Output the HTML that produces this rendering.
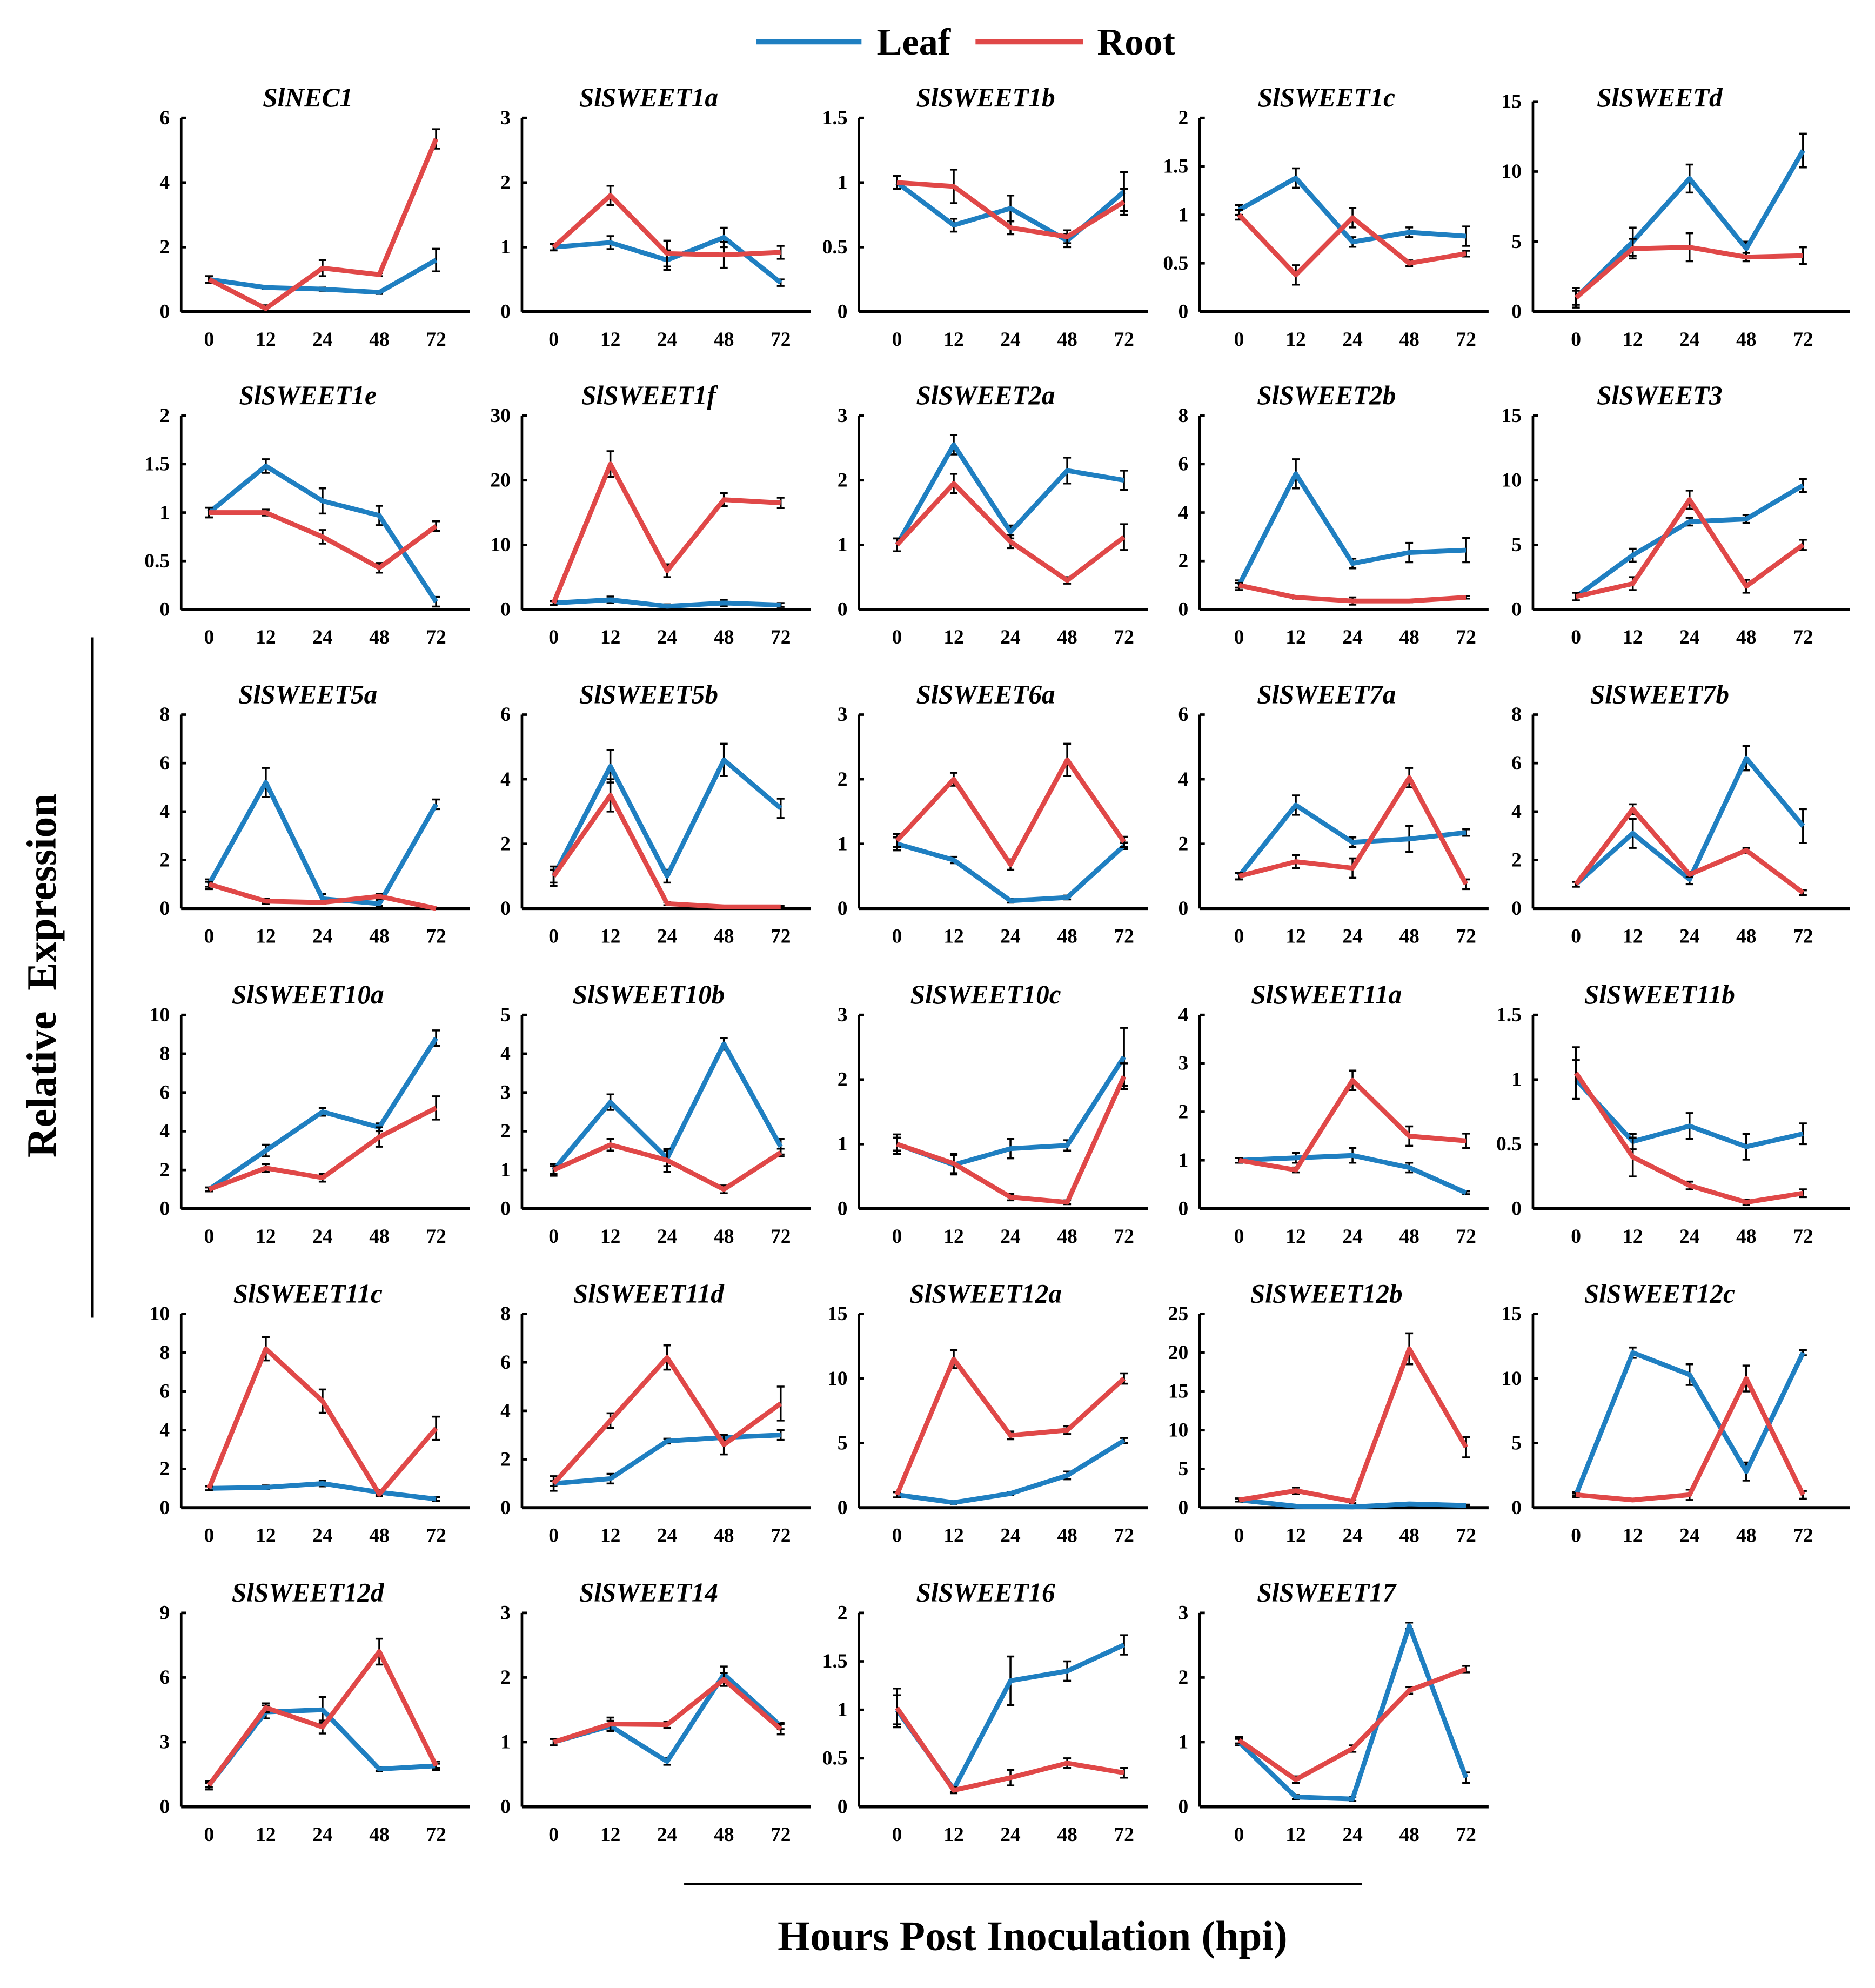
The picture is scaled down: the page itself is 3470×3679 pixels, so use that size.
<!DOCTYPE html>
<html><head><meta charset="utf-8"><style>
html,body{margin:0;padding:0;background:#fff;}
svg{display:block;font-family:"Liberation Serif",serif;font-weight:bold;}
</style></head><body>
<svg id="chart" width="3470" height="3679" viewBox="0 0 1480 1569" xmlns="http://www.w3.org/2000/svg">
<g>
<line x1="597" y1="33" x2="680" y2="33" stroke="#1f7fc1" stroke-width="4"/>
<text x="692" y="43" font-size="30">Leaf</text>
<line x1="770" y1="33" x2="855" y2="33" stroke="#e04848" stroke-width="4"/>
<text x="866" y="43" font-size="30">Root</text>
</g>
<line x1="73" y1="503" x2="73" y2="1040" stroke="#000" stroke-width="2"/>
<text transform="translate(44,770) rotate(-90)" text-anchor="middle" font-size="33">Relative&#160; Expression</text>
<line x1="540" y1="1487" x2="1075" y2="1487" stroke="#000" stroke-width="2"/>
<text x="815" y="1539" text-anchor="middle" font-size="33">Hours Post Inoculation (hpi)</text>
<g id="panels"></g>
</svg>
<script>
const hours = ["0","12","24","48","72"];
const titles = ["SlNEC1","SlSWEET1a","SlSWEET1b","SlSWEET1c","SlSWEETd","SlSWEET1e","SlSWEET1f","SlSWEET2a","SlSWEET2b","SlSWEET3","SlSWEET5a","SlSWEET5b","SlSWEET6a","SlSWEET7a","SlSWEET7b","SlSWEET10a","SlSWEET10b","SlSWEET10c","SlSWEET11a","SlSWEET11b","SlSWEET11c","SlSWEET11d","SlSWEET12a","SlSWEET12b","SlSWEET12c","SlSWEET12d","SlSWEET14","SlSWEET16","SlSWEET17"];
const yMax = [6,3,1.5,2,15, 2,30,3,8,15, 8,6,3,6,8, 10,5,3,4,1.5, 10,8,15,25,15, 9,3,2,3];
const yStep = [2,1,0.5,0.5,5, 0.5,10,1,2,5, 2,2,1,2,2, 2,1,1,1,0.5, 2,2,5,5,5, 3,1,0.5,1];
const leaf = [
[1,0.75,0.7,0.6,1.6],[1,1.07,0.8,1.15,0.45],[1,0.67,0.8,0.55,0.93],[1.05,1.38,0.72,0.82,0.78],[1,5,9.5,4.5,11.5],
[1,1.48,1.12,0.97,0.08],[1,1.5,0.5,1,0.7],[1,2.55,1.2,2.15,2],[1,5.6,1.9,2.35,2.45],[1,4.2,6.8,7,9.6],
[1,5.2,0.4,0.2,4.3],[1,4.4,1,4.6,3.1],[1,0.75,0.12,0.17,0.97],[1,3.2,2.05,2.15,2.35],[1,3.1,1.2,6.2,3.4],
[1,3,5,4.2,8.8],[1,2.75,1.3,4.25,1.6],[1,0.68,0.93,0.98,2.35],[1,1.05,1.1,0.85,0.33],[1,0.52,0.64,0.48,0.58],
[1,1.05,1.25,0.8,0.45],[1,1.2,2.75,2.9,3],[1,0.4,1.1,2.5,5.2],[1,0.2,0.1,0.5,0.3],[1,12,10.3,2.8,12],
[1,4.4,4.5,1.75,1.9],[1,1.25,0.7,2.05,1.25],[1,0.18,1.3,1.4,1.67],[1,0.15,0.12,2.8,0.45]];
const root = [
[1,0.1,1.35,1.15,5.35],[1,1.8,0.9,0.88,0.92],[1,0.97,0.65,0.58,0.85],[1,0.38,0.97,0.5,0.6],[1,4.5,4.6,3.9,4],
[1,1,0.75,0.43,0.86],[1,22.5,6,17,16.5],[1,1.95,1.05,0.45,1.12],[1,0.5,0.35,0.35,0.5],[1,2,8.5,1.8,5],
[1,0.3,0.25,0.5,0],[1,3.5,0.15,0.05,0.05],[1.05,2,0.68,2.3,1.03],[1,1.45,1.25,4.05,0.75],[1,4.1,1.4,2.4,0.65],
[1,2.1,1.6,3.7,5.2],[1,1.65,1.25,0.5,1.45],[1,0.7,0.18,0.1,2.05],[1,0.8,2.65,1.5,1.4],[1.05,0.4,0.18,0.05,0.12],
[1,8.2,5.5,0.7,4.1],[1,3.6,6.2,2.6,4.3],[1,11.5,5.6,6,10],[1,2.2,0.8,20.5,7.8],[1,0.6,1,10,1],
[1,4.6,3.7,7.2,1.9],[1,1.28,1.27,1.97,1.2],[1.02,0.17,0.3,0.45,0.35],[1.03,0.42,0.9,1.8,2.13]];
const leafErr = [
[0.1,0.05,0.05,0.05,0.35],[0.05,0.1,0.15,0.15,0.05],[0.05,0.05,0.1,0.05,0.15],[0.05,0.1,0.05,0.05,0.1],[0.7,1,1,0.5,1.2],
[0.05,0.07,0.13,0.1,0.05],[0.3,0.5,0.3,0.5,0.3],[0.1,0.15,0.1,0.2,0.15],[0.2,0.6,0.2,0.4,0.5],[0.3,0.5,0.3,0.3,0.5],
[0.2,0.6,0.2,0.1,0.2],[0.2,0.5,0.2,0.5,0.3],[0.1,0.05,0.03,0.03,0.05],[0.1,0.3,0.15,0.4,0.1],[0.1,0.6,0.2,0.5,0.7],
[0.1,0.3,0.2,0.2,0.4],[0.15,0.2,0.2,0.15,0.2],[0.1,0.15,0.15,0.08,0.45],[0.05,0.1,0.15,0.1,0.03],[0.15,0.06,0.1,0.1,0.08],
[0.1,0.1,0.15,0.1,0.1],[0.1,0.2,0.1,0.1,0.2],[0.2,0.1,0.1,0.3,0.2],[0.2,0.1,0.1,0.1,0.1],[0.2,0.4,0.8,0.7,0.2],
[0.1,0.3,0.6,0.1,0.1],[0.05,0.08,0.05,0.12,0.05],[0.15,0.03,0.25,0.1,0.1],[0.05,0.03,0.03,0.05,0.08]];
const rootErr = [
[0.1,0.1,0.25,0.05,0.3],[0.05,0.15,0.2,0.2,0.1],[0.05,0.13,0.05,0.05,0.1],[0.05,0.1,0.1,0.03,0.03],[0.5,0.7,1,0.3,0.6],
[0.05,0.03,0.07,0.05,0.05],[0.3,2,1,1,0.8],[0.1,0.15,0.1,0.05,0.2],[0.1,0.05,0.15,0.05,0.05],[0.3,0.5,0.7,0.5,0.4],
[0.1,0.1,0.05,0.1,0.03],[0.3,0.5,0.05,0.03,0.03],[0.1,0.1,0.08,0.25,0.08],[0.1,0.2,0.3,0.3,0.15],[0.1,0.2,0.1,0.1,0.1],
[0.1,0.2,0.2,0.5,0.6],[0.1,0.15,0.3,0.1,0.1],[0.15,0.15,0.05,0.03,0.2],[0.05,0.05,0.2,0.2,0.15],[0.2,0.15,0.03,0.02,0.03],
[0.1,0.6,0.6,0.1,0.6],[0.3,0.3,0.5,0.4,0.7],[0.2,0.7,0.3,0.3,0.4],[0.2,0.4,0.2,2,1.3],[0.1,0.1,0.4,1,0.3],
[0.2,0.2,0.3,0.6,0.2],[0.05,0.1,0.05,0.1,0.08],[0.2,0.03,0.08,0.05,0.05],[0.05,0.05,0.05,0.05,0.05]];

const NS = "http://www.w3.org/2000/svg";
const colAxis = [143,412,678,947,1210];
const colOff = [22,25,30,31,34];
const colWidth = [228,228,228,228,250];
const rowZero = [246,481,717,954,1190,1426];
const step = 44.8;
const host = document.getElementById('panels');
function mk(tag, attrs, parent){const e=document.createElementNS(NS,tag);for(const k in attrs)e.setAttribute(k,attrs[k]);parent.appendChild(e);return e;}
function fmt(v){return (Math.round(v*10)/10).toString();}

titles.forEach((t,i)=>{
  const c=i%5, r=Math.floor(i/5);
  const plotH = (i===4) ? 166 : 153;
  const ax=colAxis[c], y0=rowZero[r], yt=y0-plotH;
  const g=mk('g',{},host);
  
  
  const yS=v=>y0-v/yMax[i]*plotH;
  const xS=k=>ax+colOff[c]+k*step;
  const tt=mk('text',{x:ax+100,y:(i===4?y0-153:yt)-9,'text-anchor':'middle','font-size':21,'font-style':'italic'},g);
  tt.textContent=t;
  
  
  const ya=mk('line',{x1:ax,y1:yt,x2:ax,y2:y0,stroke:'#000','stroke-width':2},g);
  
  
  const xa=mk('line',{x1:ax,y1:y0,x2:ax+colWidth[c],y2:y0,stroke:'#000','stroke-width':2.5},g);
  
  
  const n=Math.round(yMax[i]/yStep[i]);
  for(let k=0;k<=n;k++){
    const v=k*yStep[i], y=yS(v);
    mk('line',{x1:ax,y1:y,x2:ax+4,y2:y,stroke:'#000','stroke-width':2},g);
    const tl=mk('text',{x:ax-9,y:y+5,'text-anchor':'end','font-size':16},g);
    tl.textContent=fmt(v);
    
    
  }
  hours.forEach((h,k)=>{
    const xl=mk('text',{x:xS(k),y:y0+27,'text-anchor':'middle','font-size':16},g);
    xl.textContent=h;
    
    
  });
  [[leaf[i],leafErr[i],'#1f7fc1','leaf'],[root[i],rootErr[i],'#e04848','root']].forEach(([vals,errs,col,nm])=>{
    vals.forEach((v,k)=>{
      const x=xS(k), e=errs[k];
      const eb=mk('path',{d:`M${x},${yS(v+e)}V${yS(Math.max(0,v-e))}M${x-3},${yS(v+e)}h6M${x-3},${yS(Math.max(0,v-e))}h6`,stroke:'#000','stroke-width':1.5,fill:'none'},g);
      
      
    });
    const pl=mk('polyline',{points:vals.map((v,k)=>xS(k)+','+yS(v)).join(' '),fill:'none',stroke:col,'stroke-width':3.8,'stroke-linejoin':'round'},g);
    
    
  });
});
</script>
</body></html>
